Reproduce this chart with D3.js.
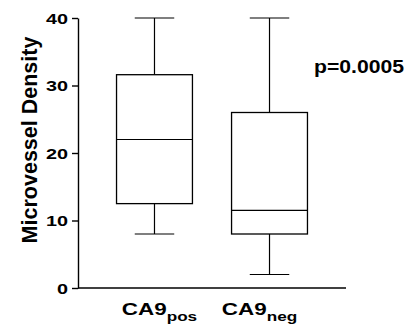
<!DOCTYPE html>
<html>
<head>
<meta charset="utf-8">
<script src="https://cdn.jsdelivr.net/npm/d3@7"></script>
<style>
  body { margin: 0; background: #fff; }
  text { font-family: "Liberation Sans", Arial, sans-serif; font-weight: bold; fill: #000; }
</style>
</head>
<body>
<svg class="chart"></svg>
<script>
// box plot data
const groups = ["pos", "neg"];
const groupNames = ["CA9", "CA9"];
const whiskerLow = [8, 2];
const q1 = [12.5, 8];
const median = [22, 11.5];
const q3 = [31.6, 26];
const whiskerHigh = [40, 40];
const yTicks = [0, 10, 20, 30, 40];
const pLabel = "p=0.0005";

const canvas = {width: 409, height: 325};
const margin = {top: 18, bottom: 37, left: 78, right: 63};
const chart_dimensions = {
    width: canvas.width - (margin.left + margin.right),
    height: canvas.height - (margin.top + margin.bottom)
};
const stretch = 1.32; // the scanned text is wider than normal

const svg = d3.select(".chart")
    .attr("width", canvas.width)
    .attr("height", canvas.height);

const x = d3.scaleBand()
    .domain(groups)
    .range([0, chart_dimensions.width])
    .paddingInner(0.34)
    .paddingOuter(0.335);

const y = d3.scaleLinear()
    .domain([0, 40])
    .range([chart_dimensions.height, 0]);

const chart = svg.append("g")
    .attr("transform", "translate(" + margin.left + "," + margin.top + ")");

// y axis
const yAxis = chart.append("g")
    .call(d3.axisLeft(y).tickValues(yTicks).tickSize(6).tickSizeOuter(0).tickPadding(4));
yAxis.select(".domain").attr("stroke-width", 1.4);
yAxis.selectAll(".tick line").attr("stroke-width", 1.4);
yAxis.selectAll(".tick text")
    .style("font-size", "15px")
    .attr("transform", "scale(" + stretch + ",1)")
    .attr("x", -10 / stretch)
    .attr("dy", "0.36em");

// x axis baseline, no ticks
chart.append("line")
    .attr("x1", 0).attr("x2", chart_dimensions.width)
    .attr("y1", y(0)).attr("y2", y(0))
    .attr("stroke", "#000").attr("stroke-width", 1.4);

const bw = x.bandwidth();
const capW = bw * 0.52;

const box = chart.selectAll(".box")
    .data(groups)
    .enter().append("g")
    .attr("class", "box")
    .attr("transform", d => "translate(" + x(d) + ",0)");

box.append("line")
    .attr("x1", bw / 2).attr("x2", bw / 2)
    .attr("y1", (d, i) => y(whiskerHigh[i])).attr("y2", (d, i) => y(q3[i]))
    .attr("stroke", "#000").attr("stroke-width", 1.2);
box.append("line")
    .attr("x1", bw / 2).attr("x2", bw / 2)
    .attr("y1", (d, i) => y(q1[i])).attr("y2", (d, i) => y(whiskerLow[i]))
    .attr("stroke", "#000").attr("stroke-width", 1.2);
box.append("line")
    .attr("x1", bw / 2 - capW / 2).attr("x2", bw / 2 + capW / 2)
    .attr("y1", (d, i) => y(whiskerHigh[i])).attr("y2", (d, i) => y(whiskerHigh[i]))
    .attr("stroke", "#000").attr("stroke-width", 1.2);
box.append("line")
    .attr("x1", bw / 2 - capW / 2).attr("x2", bw / 2 + capW / 2)
    .attr("y1", (d, i) => y(whiskerLow[i])).attr("y2", (d, i) => y(whiskerLow[i]))
    .attr("stroke", "#000").attr("stroke-width", 1.2);
box.append("rect")
    .attr("x", 0).attr("width", bw)
    .attr("y", (d, i) => y(q3[i]))
    .attr("height", (d, i) => y(q1[i]) - y(q3[i]))
    .attr("fill", "#fff").attr("stroke", "#000").attr("stroke-width", 1.3);
box.append("line")
    .attr("x1", 0).attr("x2", bw)
    .attr("y1", (d, i) => y(median[i])).attr("y2", (d, i) => y(median[i]))
    .attr("stroke", "#000").attr("stroke-width", 1.2);

// category labels with subscripts
const labelShift = [5, -10];
const lab = chart.selectAll(".xlabel")
    .data(groups)
    .enter().append("g")
    .attr("class", "xlabel")
    .attr("transform", (d, i) => "translate(" + (x(d) + bw / 2 + labelShift[i]) + "," +
        (chart_dimensions.height + 27) + ") scale(" + stretch + ",1)")
    .append("text")
    .attr("text-anchor", "middle")
    .style("font-size", "17px");
lab.append("tspan").text((d, i) => groupNames[i]);
lab.append("tspan")
    .attr("dy", 6)
    .style("font-size", "13px")
    .text(d => d);

// y axis title
svg.append("text")
    .attr("transform", "translate(" + 37 + "," + (margin.top + 122) + ") rotate(-90)")
    .attr("text-anchor", "middle")
    .style("font-size", "21.5px")
    .text("Microvessel Density");

// p value
svg.append("text")
    .attr("x", 314)
    .attr("y", 73)
    .attr("textLength", 90)
    .attr("lengthAdjust", "spacingAndGlyphs")
    .style("font-size", "18px")
    .text(pLabel);
</script>
</body>
</html>
